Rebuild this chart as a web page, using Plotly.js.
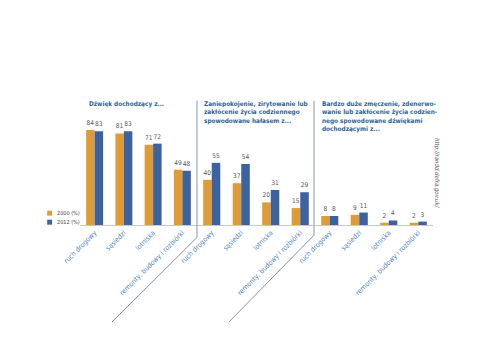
<!DOCTYPE html>
<html><head><meta charset="utf-8">
<script src="https://cdn.plot.ly/plotly-3.0.1.min.js"></script>
<style>html,body{margin:0;padding:0;background:#fff}#chart{width:500px;height:362px}</style>
</head><body><div id="chart"></div>
<script>
const categories = ["ruch drogowy", "sąsiedzi", "lotniska", "remonty, budowy i rozbiórki"];
const seriesNames = ["2000 (%)", "2012 (%)"];
const panel1_2000 = [84, 81, 71, 49];
const panel1_2012 = [83, 83, 72, 48];
const panel2_2000 = [40, 37, 20, 15];
const panel2_2012 = [55, 54, 31, 29];
const panel3_2000 = [8, 9, 2, 2];
const panel3_2012 = [8, 11, 4, 3];
const panelTitles = [
  "Dźwięk dochodzący z...",
  "Zaniepokojenie, zirytowanie lub<br>zakłócenie życia codziennego<br>spowodowane hałasem z...",
  "Bardzo duże zmęczenie, zdenerwo-<br>wanie lub zakłócenie życia codzien-<br>nego spowodowane dźwiękami<br>dochodzącymi z..."
];
const sourceText = "http://randd.defra.gov.uk/";

const orange = "#df9c36", blue = "#3c62a0";
const cond = "DejaVu Sans Condensed";
const panels = [[panel1_2000, panel1_2012], [panel2_2000, panel2_2012], [panel3_2000, panel3_2012]];
const traces = [];
panels.forEach((p, i) => {
  const ax = i === 0 ? "x" : "x" + (i + 1);
  p.forEach((vals, s) => {
    traces.push({
      type: "bar", x: categories, y: vals, xaxis: ax, yaxis: "y",
      name: seriesNames[s], showlegend: false,
      marker: {color: s === 0 ? orange : blue},
      text: vals.map(String), textposition: "outside", cliponaxis: false,
      textfont: {size: 6.5, color: "#555", family: cond},
      hoverinfo: "skip"
    });
  });
});
const axBase = {
  showgrid: false, zeroline: false, showline: true, linecolor: "#c8c8c8", linewidth: 1,
  tickangle: -45, ticks: "", tickfont: {size: 7, color: "#5485bb", family: cond}, fixedrange: true
};
const titleFont = {size: 6.4, color: "#2b5f98", family: cond, weight: "bold"};
const legendAnn = seriesNames.map((n, k) => ({
  text: n, xref: "paper", yref: "paper", x: -0.071, y: 0.105 - k * 0.08, xanchor: "left", yanchor: "middle",
  showarrow: false, font: {size: 5.5, color: "#444", family: cond}
}));
const legendShapes = seriesNames.map((n, k) => ({
  type: "rect", xref: "paper", yref: "paper", x0: -0.093, x1: -0.079,
  y0: 0.105 - k * 0.08 - 0.022, y1: 0.105 - k * 0.08 + 0.022,
  fillcolor: k === 0 ? orange : blue, line: {width: 0}
}));
const layout = {
  width: 500, height: 362,
  margin: {l: 80, r: 67, t: 112, b: 137},
  paper_bgcolor: "#fff", plot_bgcolor: "#fff",
  barmode: "group", bargap: 0.42, bargroupgap: 0,
  xaxis: Object.assign({}, axBase, {domain: [0, 0.3314]}),
  xaxis2: Object.assign({}, axBase, {domain: [0.3314, 0.6657]}),
  xaxis3: Object.assign({}, axBase, {domain: [0.6657, 1]}),
  yaxis: {range: [0, 100], visible: false, fixedrange: true},
  showlegend: false,
  annotations: [
    {text: "<b>" + panelTitles[0] + "</b>", xref: "paper", yref: "paper", x: 0.02, y: 1.12, xanchor: "left", yanchor: "top", align: "left", showarrow: false, font: titleFont},
    {text: "<b>" + panelTitles[1] + "</b>", xref: "paper", yref: "paper", x: 0.346, y: 1.12, xanchor: "left", yanchor: "top", align: "left", showarrow: false, font: titleFont},
    {text: "<b>" + panelTitles[2] + "</b>", xref: "paper", yref: "paper", x: 0.679, y: 1.12, xanchor: "left", yanchor: "top", align: "left", showarrow: false, font: titleFont},
    {text: "<i>" + sourceText + "</i>", xref: "paper", yref: "paper", x: 0.995, y: 0.79, xanchor: "left", yanchor: "top", textangle: 90, showarrow: false, font: {size: 6, color: "#555", family: cond}}
  ].concat(legendAnn),
  shapes: [
    {type: "path", xref: "paper", yref: "paper", path: "M 0.3314 1.10 L 0.3314 -0.11 L 0.0907 -0.858", line: {color: "#8795aa", width: 1}},
    {type: "path", xref: "paper", yref: "paper", path: "M 0.6629 1.10 L 0.6629 -0.09 L 0.4220 -0.858", line: {color: "#8795aa", width: 1}}
  ].concat(legendShapes)
};
Plotly.newPlot("chart", traces, layout, {displayModeBar: false, staticPlot: true});
</script></body></html>
